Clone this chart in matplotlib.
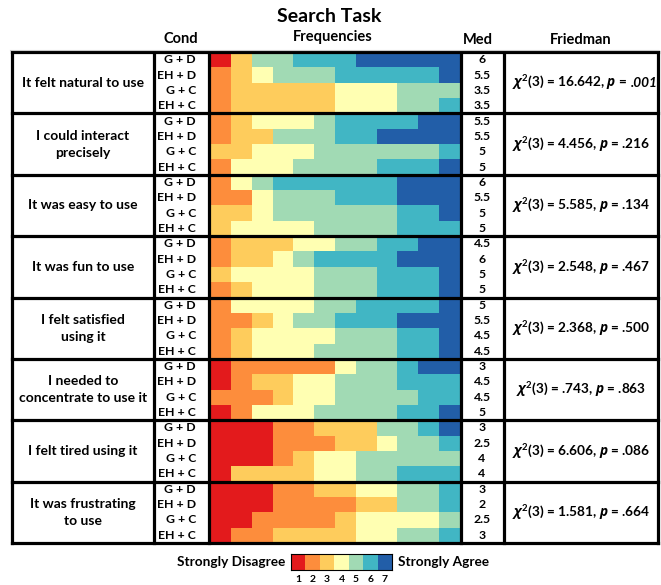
import matplotlib
matplotlib.use("Agg")
import matplotlib.pyplot as plt
import numpy as np

plt.rcParams['font.family'] = ['Lato', 'DejaVu Sans']
plt.rcParams['font.weight'] = 'bold'
plt.rcParams['mathtext.fontset'] = 'custom'
plt.rcParams['mathtext.rm'] = 'Lato:bold'
plt.rcParams['mathtext.bf'] = 'Lato:bold'
plt.rcParams['mathtext.it'] = 'Open Sans:italic:bold'

# --- data ---------------------------------------------------------------
questions = ["It felt natural to use", "I could interact\nprecisely",
             "It was easy to use", "It was fun to use",
             "I felt satisfied\nusing it", "I needed to\nconcentrate to use it",
             "I felt tired using it", "It was frustrating\nto use"]
conditions = ["G + D", "EH + D", "G + C", "EH + C"]
levels = ["1", "2", "3", "4", "5", "6", "7"]
colors = ["#e31a1c", "#fd8d3c", "#fecc5c", "#ffffb2", "#a1dab4", "#41b6c4", "#225ea8"]

# counts of answers 1..7 per condition (12 participants)
natural = [[1, 0, 1, 0, 2, 3, 5], [0, 1, 1, 1, 3, 5, 1], [0, 1, 5, 3, 3, 0, 0], [0, 1, 5, 3, 2, 1, 0]]
precise = [[0, 1, 1, 3, 1, 4, 2], [0, 1, 2, 0, 3, 2, 4], [0, 0, 2, 3, 6, 1, 0], [0, 1, 0, 3, 4, 3, 1]]
easy = [[0, 1, 0, 1, 1, 6, 3], [0, 2, 0, 1, 3, 3, 3], [0, 0, 2, 1, 6, 2, 1], [0, 0, 1, 4, 4, 3, 0]]
fun = [[0, 1, 3, 2, 2, 2, 2], [0, 1, 2, 1, 1, 4, 3], [0, 0, 1, 4, 3, 3, 1], [0, 1, 1, 3, 3, 3, 1]]
satisfied = [[0, 1, 0, 4, 2, 4, 1], [0, 2, 1, 1, 2, 3, 3], [0, 1, 1, 4, 3, 2, 1], [0, 1, 1, 3, 4, 2, 1]]
concentrate = [[1, 5, 0, 1, 2, 1, 2], [1, 1, 2, 2, 3, 3, 0], [0, 3, 1, 2, 4, 2, 0], [1, 1, 0, 3, 4, 2, 1]]
tired = [[3, 2, 3, 0, 2, 1, 1], [3, 3, 2, 1, 2, 1, 0], [3, 1, 1, 2, 5, 0, 0], [1, 0, 4, 2, 2, 3, 0]]
frustrating = [[3, 2, 2, 2, 2, 1, 0], [3, 4, 2, 0, 2, 1, 0], [2, 4, 1, 4, 1, 0, 0], [1, 2, 4, 2, 2, 1, 0]]

medians = [["6", "5.5", "3.5", "3.5"], ["5.5", "5.5", "5", "5"], ["6", "5.5", "5", "5"],
           ["4.5", "6", "5", "5"], ["5", "5.5", "4.5", "4.5"], ["3", "4.5", "4.5", "5"],
           ["3", "2.5", "4", "4"], ["3", "2", "2.5", "3"]]
chi2 = ["16.642", "4.456", "5.585", "2.548", "2.368", ".743", "6.606", "1.581"]
pvals = [".001", ".216", ".134", ".467", ".500", ".863", ".086", ".664"]

counts = np.array([natural, precise, easy, fun, satisfied, concentrate, tired, frustrating])

# --- layout (pixels) ----------------------------------------------------
W, H = 661, 585
x_cols = [12, 154, 209, 461, 504, 658]
y_top, y_bot = 52, 543
blk = (y_bot - y_top) / len(questions)

fig = plt.figure(figsize=(W / 100, H / 100), dpi=100)

# stacked bars
ax = fig.add_axes([210 / W, 1 - y_bot / H, (460 - 210) / W, (y_bot - y_top) / H])
rows = counts.reshape(-1, 7)
ypos = np.arange(len(rows)) + 0.5
left = np.zeros(len(rows))
for k in range(7):
    ax.barh(ypos, rows[:, k], left=left, height=1.0, color=colors[k], linewidth=0)
    left += rows[:, k]
ax.set_xlim(0, 12)
ax.set_ylim(len(rows), 0)
ax.axis('off')

# table grid and text
ov = fig.add_axes([0, 0, 1, 1], zorder=2)
ov.set_xlim(0, W)
ov.set_ylim(H, 0)
ov.axis('off')
ov.patch.set_alpha(0)

lw = 2.3
for i in range(len(questions) + 1):
    y = y_top + i * blk
    ov.plot([x_cols[0], x_cols[-1]], [y, y], color='black', lw=lw, solid_capstyle='projecting')
for x in x_cols:
    ov.plot([x, x], [y_top, y_bot], color='black', lw=lw, solid_capstyle='projecting')
ov.plot([10, 658], [49.5, 49.5], color='#cccccc', lw=0.8)

ov.text(329, 16, "Search Task", ha='center', va='center', fontsize=14)
ov.text(181, 39, "Cond", ha='center', va='center', fontsize=10.5)
ov.text(333, 37, "Frequencies", ha='center', va='center', fontsize=10.5)
ov.text(478, 40, "Med", ha='center', va='center', fontsize=10.5)
ov.text(581, 40, "Friedman", ha='center', va='center', fontsize=10.5)

for i, q in enumerate(questions):
    y0 = y_top + i * blk
    ov.text(83, y0 + blk / 2, q, ha='center', va='center', fontsize=10,
            linespacing=1.5)
    for j, c in enumerate(conditions):
        yr = y0 + (j + 0.5) * blk / 4
        ov.text(196, yr, c, ha='right', va='center', fontsize=8.8)
        ov.text(482, yr, medians[i][j], ha='center', va='center', fontsize=8.8)
    if i == 0:
        # significant result: p value set in italics, appended to the right
        t = ov.text(570, y0 + blk / 2, r"$\mathit{\chi}^{2}$(3) = %s, $\mathit{p}$ = " % chi2[i],
                    ha='center', va='center', fontsize=9.8)
        ov.annotate(pvals[i], xy=(1, 0.5), xycoords=t, xytext=(2, 0), textcoords='offset points',
                    ha='left', va='center', fontsize=9.8, fontstyle='italic')
    else:
        ov.text(581, y0 + blk / 2, r"$\mathit{\chi}^{2}$(3) = %s, $\mathit{p}$ = %s" % (chi2[i], pvals[i]),
                ha='center', va='center', fontsize=9.8)

# colour legend
lg = fig.add_axes([291 / W, 1 - 570 / H, (392 - 291) / W, (570 - 554) / H], zorder=3)
lg.bar(np.arange(7) + 0.5, np.ones(7), width=1.0, color=colors, linewidth=0)
lg.set_xlim(0, 7)
lg.set_ylim(0, 1)
lg.set_yticks([])
lg.set_xticks(np.arange(7) + 0.5)
lg.set_xticklabels(levels, fontsize=7.5)
lg.tick_params(axis='x', length=0, pad=3.5)
for s in lg.spines.values():
    s.set_linewidth(0.8)
ov.text(285, 562, "Strongly Disagree", ha='right', va='center', fontsize=9.8)
ov.text(398, 562, "Strongly Agree", ha='left', va='center', fontsize=9.8)

fig.savefig("out.png", dpi=100)
